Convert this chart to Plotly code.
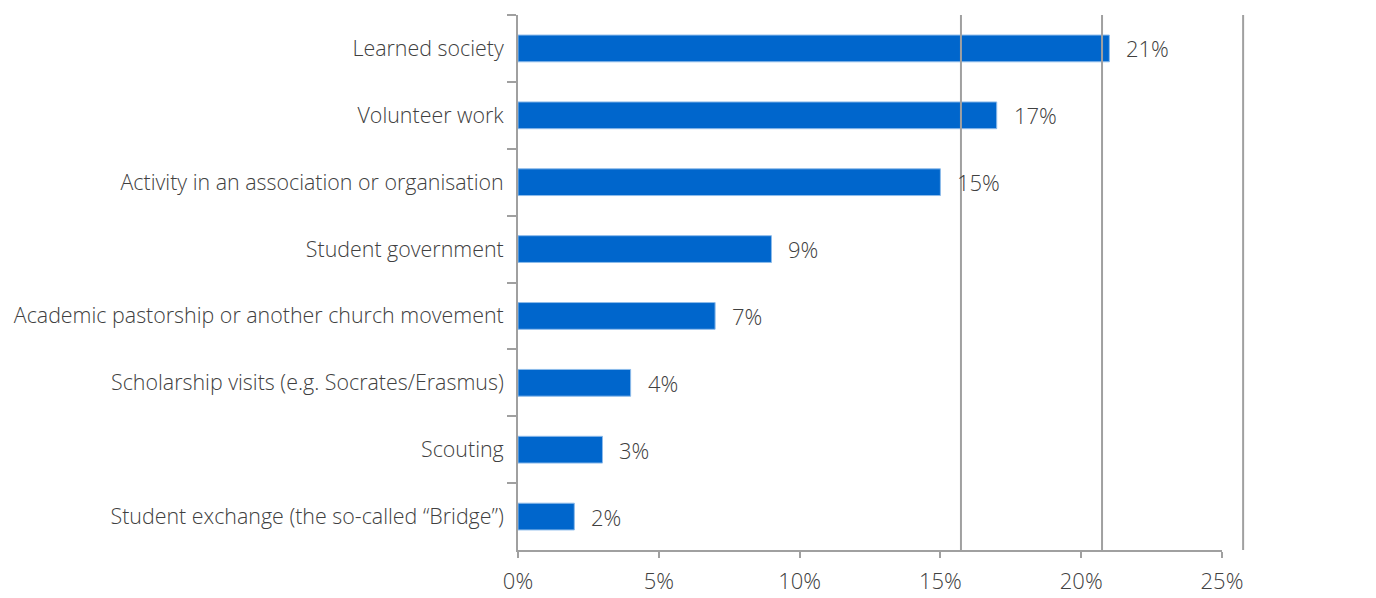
import plotly.graph_objects as go

# Share of respondents by type of activity (%)
activities = [
    "Learned society",
    "Volunteer work",
    "Activity in an association or organisation",
    "Student government",
    "Academic pastorship or another church movement",
    "Scholarship visits (e.g. Socrates/Erasmus)",
    "Scouting",
    "Student exchange (the so-called \u201cBridge\u201d)",
]
shares = [21, 17, 15, 9, 7, 4, 3, 2]
x_max = 25
x_ticks = [0, 5, 10, 15, 20, 25]
x_tick_labels = ["0%", "5%", "10%", "15%", "20%", "25%"]
# vertical reference lines drawn over the bars (in % units)
ref_lines = [15.73, 20.74, 25.75]

FONT = "Open Sans"
TEXT = "#404040"
GREY = "#a0a0a0"

fig = go.Figure(
    go.Bar(
        x=shares,
        y=activities,
        orientation="h",
        width=0.4,
        marker=dict(color="#0066CC", line=dict(color="#8dbbea", width=1)),
        hoverinfo="skip",
    )
)

for cat, val in zip(activities, shares):
    fig.add_annotation(
        x=val, y=cat, xref="x", yref="y",
        text=f"{val}%", showarrow=False,
        xanchor="left", yanchor="middle", xshift=15,
        font=dict(family=FONT, size=22, color=TEXT, weight=300),
    )

for xv in ref_lines:
    fig.add_shape(
        type="line", xref="paper", yref="paper",
        x0=xv / x_max, x1=xv / x_max, y0=0, y1=1,
        line=dict(color=GREY, width=2), layer="above",
    )

fig.update_layout(
    width=1376, height=598,
    margin=dict(l=518, r=154, t=15, b=48),
    plot_bgcolor="white", paper_bgcolor="white",
    showlegend=False,
    font=dict(family=FONT, size=21.4, color=TEXT, weight=300),
    xaxis=dict(
        range=[0, x_max], tickvals=x_ticks, ticktext=x_tick_labels,
        showgrid=False, zeroline=False, automargin=False,
        showline=True, linecolor=GREY, linewidth=2,
        ticks="outside", ticklen=6, tickcolor=GREY, tickwidth=2,
        ticklabelstandoff=5,
        tickfont=dict(family=FONT, size=22, color=TEXT, weight=300),
    ),
    yaxis=dict(
        categoryorder="array", categoryarray=activities,
        autorange="reversed", automargin=False,
        showgrid=False, zeroline=False,
        showline=True, linecolor=GREY, linewidth=2,
        ticks="outside", tickson="boundaries", ticklen=9,
        tickcolor=GREY, tickwidth=2,
        ticklabelstandoff=8,
        tickfont=dict(family=FONT, size=21.4, color=TEXT, weight=300),
    ),
)

fig.write_html("out.html")
